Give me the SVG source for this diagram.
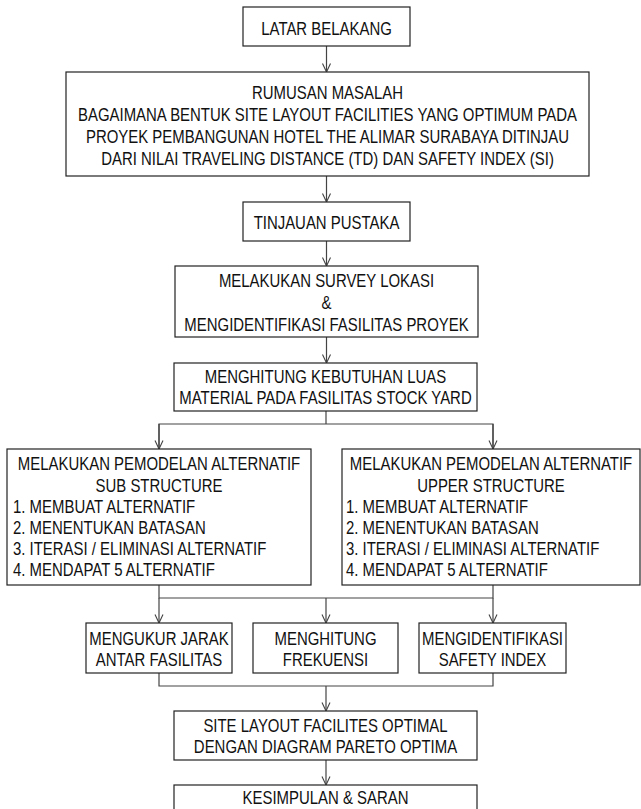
<svg xmlns="http://www.w3.org/2000/svg" width="641" height="809" viewBox="0 0 641 809">
<style>
rect{fill:#fff;stroke:#222;stroke-width:1.2}
text{font-family:"Liberation Sans",Arial,sans-serif;font-size:18px;fill:#111}
.c{text-anchor:middle}
.l{text-anchor:start}
.cn line,.cn polyline{stroke:#444;stroke-width:1.2;fill:none}
</style>
<defs>
<marker id="arr" viewBox="0 0 10 10" markerWidth="10" markerHeight="10" refX="10" refY="5" orient="auto" markerUnits="userSpaceOnUse">
<path d="M1.5,1 L10,5 L1.5,9" fill="none" stroke="#444" stroke-width="1.1"/>
</marker>
</defs>
<rect x="0" y="0" width="641" height="809" style="fill:#fff;stroke:none"/>
<g class="cn" id="connectors">
<line x1="326.5" y1="46" x2="326.5" y2="72" marker-end="url(#arr)"/>
<line x1="326.5" y1="176" x2="326.5" y2="202" marker-end="url(#arr)"/>
<line x1="326.5" y1="241" x2="326.5" y2="266" marker-end="url(#arr)"/>
<line x1="326.5" y1="337" x2="326.5" y2="363" marker-end="url(#arr)"/>
<polyline points="326,411 326,424"/>
<polyline points="159,449 159,424 493,424 493,449"/>
<line x1="159" y1="424" x2="159" y2="449" marker-end="url(#arr)"/>
<line x1="493" y1="424" x2="493" y2="449" marker-end="url(#arr)"/>
<polyline points="159,585 159,598 493,598 493,585"/>
<line x1="159" y1="598" x2="159" y2="623" marker-end="url(#arr)"/>
<line x1="326" y1="598" x2="326" y2="623" marker-end="url(#arr)"/>
<line x1="493" y1="598" x2="493" y2="623" marker-end="url(#arr)"/>
<polyline points="159,673 159,686 493,686 493,673"/>
<line x1="326" y1="686" x2="326" y2="711" marker-end="url(#arr)"/>
<line x1="326" y1="760" x2="326" y2="785" marker-end="url(#arr)"/>
</g>
<g id="latar">
<rect x="243" y="7" width="167" height="39"/>
<text class="c" transform="translate(326.5,35) scale(0.83,1)">LATAR BELAKANG</text>
</g>
<g id="rumusan">
<rect x="66" y="72" width="523" height="104"/>
<text class="c" transform="translate(327.5,99) scale(0.83,1)">RUMUSAN MASALAH</text>
<text class="c" transform="translate(327.5,121) scale(0.83,1)">BAGAIMANA BENTUK SITE LAYOUT FACILITIES YANG OPTIMUM PADA</text>
<text class="c" transform="translate(327.5,143) scale(0.83,1)">PROYEK PEMBANGUNAN HOTEL THE ALIMAR SURABAYA DITINJAU</text>
<text class="c" transform="translate(327.5,165) scale(0.83,1)">DARI NILAI TRAVELING DISTANCE (TD) DAN SAFETY INDEX (SI)</text>
</g>
<g id="tinjauan">
<rect x="243" y="202" width="167" height="39"/>
<text class="c" transform="translate(326.5,229) scale(0.83,1)">TINJAUAN PUSTAKA</text>
</g>
<g id="survey">
<rect x="175" y="266" width="303" height="71"/>
<text class="c" transform="translate(326.5,287) scale(0.83,1)">MELAKUKAN SURVEY LOKASI</text>
<text class="c" transform="translate(326.5,309) scale(0.83,1)">&amp;</text>
<text class="c" transform="translate(326.5,331) scale(0.83,1)">MENGIDENTIFIKASI FASILITAS PROYEK</text>
</g>
<g id="kebutuhan">
<rect x="174" y="363" width="303" height="48"/>
<text class="c" transform="translate(325.5,383) scale(0.83,1)">MENGHITUNG KEBUTUHAN LUAS</text>
<text class="c" transform="translate(325.5,404) scale(0.83,1)">MATERIAL PADA FASILITAS STOCK YARD</text>
</g>
<g id="sub">
<rect x="7" y="449" width="304" height="136"/>
<text class="c" transform="translate(159,470) scale(0.83,1)">MELAKUKAN PEMODELAN ALTERNATIF</text>
<text class="c" transform="translate(159,492) scale(0.83,1)">SUB STRUCTURE</text>
<text class="l" transform="translate(13,513) scale(0.83,1)">1. MEMBUAT ALTERNATIF</text>
<text class="l" transform="translate(13,534) scale(0.83,1)">2. MENENTUKAN BATASAN</text>
<text class="l" transform="translate(13,555) scale(0.83,1)">3. ITERASI / ELIMINASI ALTERNATIF</text>
<text class="l" transform="translate(13,576) scale(0.83,1)">4. MENDAPAT 5 ALTERNATIF</text>
</g>
<g id="upper">
<rect x="342" y="449" width="298" height="136"/>
<text class="c" transform="translate(491,470) scale(0.83,1)">MELAKUKAN PEMODELAN ALTERNATIF</text>
<text class="c" transform="translate(491,492) scale(0.83,1)">UPPER STRUCTURE</text>
<text class="l" transform="translate(346,513) scale(0.83,1)">1. MEMBUAT ALTERNATIF</text>
<text class="l" transform="translate(346,534) scale(0.83,1)">2. MENENTUKAN BATASAN</text>
<text class="l" transform="translate(346,555) scale(0.83,1)">3. ITERASI / ELIMINASI ALTERNATIF</text>
<text class="l" transform="translate(346,576) scale(0.83,1)">4. MENDAPAT 5 ALTERNATIF</text>
</g>
<g id="jarak">
<rect x="86" y="623" width="146" height="50"/>
<text class="c" transform="translate(159,645) scale(0.83,1)">MENGUKUR JARAK</text>
<text class="c" transform="translate(159,666) scale(0.83,1)">ANTAR FASILITAS</text>
</g>
<g id="frekuensi">
<rect x="253" y="623" width="145" height="50"/>
<text class="c" transform="translate(325.5,645) scale(0.83,1)">MENGHITUNG</text>
<text class="c" transform="translate(325.5,666) scale(0.83,1)">FREKUENSI</text>
</g>
<g id="safety">
<rect x="419" y="623" width="147" height="50"/>
<text class="c" transform="translate(492.5,645) scale(0.83,1)">MENGIDENTIFIKASI</text>
<text class="c" transform="translate(492.5,666) scale(0.83,1)">SAFETY INDEX</text>
</g>
<g id="site">
<rect x="174" y="711" width="303" height="49"/>
<text class="c" transform="translate(325.5,731.5) scale(0.83,1)">SITE LAYOUT FACILITES OPTIMAL</text>
<text class="c" transform="translate(325.5,753) scale(0.83,1)">DENGAN DIAGRAM PARETO OPTIMA</text>
</g>
<g id="kesimpulan">
<rect x="174" y="785" width="303" height="40"/>
<text class="c" transform="translate(325.5,804) scale(0.83,1)">KESIMPULAN &amp; SARAN</text>
</g>
</svg>
